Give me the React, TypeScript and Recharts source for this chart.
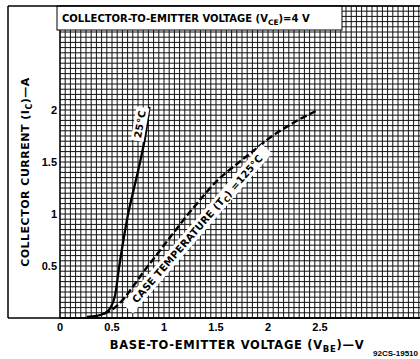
import React from 'react';
import { LineChart, Line, XAxis, YAxis, ReferenceLine, ReferenceDot } from 'recharts';

// Tick labels
const xTicks = [0, 0.5, 1, 1.5, 2, 2.5];
const yTicks = [0.5, 1, 1.5, 2];

// 25°C curve (VBE in V, IC in A)
const vbe25 = [0.26, 0.35, 0.42, 0.48, 0.53, 0.57, 0.61, 0.655, 0.71, 0.77, 0.82, 0.86];
const ic25 = [0.01, 0.02, 0.04, 0.09, 0.22, 0.5, 0.75, 1.0, 1.24, 1.5, 1.75, 2.03];

// 125°C curve
const vbe125 = [0.42, 0.5, 0.6, 0.7, 0.8, 0.9, 1.0, 1.1, 1.2, 1.3, 1.4, 1.5, 1.6, 1.7, 1.8, 1.9, 2.0, 2.1, 2.2, 2.3, 2.4, 2.48];
const ic125 = [0.04, 0.08, 0.17, 0.3, 0.44, 0.57, 0.7, 0.83, 0.96, 1.08, 1.2, 1.31, 1.4, 1.48, 1.56, 1.64, 1.72, 1.79, 1.85, 1.91, 1.96, 2.0];

// Label anchor points (data coords)
const label25 = { v: 0.77, i: 1.865 };
const label125 = { v: 1.32, i: 0.86 };

const X_MAX = 3.4615;
const Y_MAX = 3;
const GRID_STEP = 0.05;

const gridX: number[] = [];
for (let k = 0; k * GRID_STEP <= X_MAX + 1e-9; k++) gridX.push(+(k * GRID_STEP).toFixed(2));
const gridY: number[] = [];
for (let k = 0; k * GRID_STEP <= Y_MAX + 1e-9; k++) gridY.push(+(k * GRID_STEP).toFixed(2));

const data25 = vbe25.map((v, idx) => ({ v, i: ic25[idx] }));
const data125 = vbe125.map((v, idx) => ({ v, i: ic125[idx] }));

const FONT = '"Liberation Sans", Arial, Helvetica, sans-serif';
const WIDE = '"DejaVu Sans", Verdana, sans-serif';

const tickStyle = { fontSize: 11, fontWeight: 700, fill: '#000', fontFamily: FONT };

const RotLabel = (props: any) => {
  const { viewBox, angle, w, h, fs, ls, children } = props;
  if (!viewBox) return null;
  const cx = viewBox.x + (viewBox.width || 0) / 2;
  const cy = viewBox.y + (viewBox.height || 0) / 2;
  return (
    <g transform={`translate(${cx},${cy}) rotate(${angle})`}>
      <rect x={-w / 2} y={-h / 2} width={w} height={h} fill="#fff" />
      <text
        x={0}
        y={0}
        textAnchor="middle"
        dominantBaseline="central"
        fontFamily={WIDE}
        fontWeight={700}
        fontSize={fs}
        letterSpacing={ls}
        fill="#000"
      >
        {children}
      </text>
    </g>
  );
};

const Decorations = () => (
  <svg
    width={420}
    height={359}
    style={{ position: 'absolute', left: 0, top: 0, pointerEvents: 'none' }}
  >
    <g fontFamily={WIDE} fontWeight={700} fill="#000">
      {/* title box */}
      <rect x={57} y={6} width={285} height={24} fill="#fff" stroke="#000" strokeWidth={1} />
      <text x={62} y={22} fontSize={10}>
        COLLECTOR-TO-EMITTER VOLTAGE (V
        <tspan fontSize={7.5} dy={3}>CE</tspan>
        <tspan dy={-3}>)=4 V</tspan>
      </text>
      {/* frame */}
      <line x1={8} y1={6} x2={420} y2={6} stroke="#000" strokeWidth={1.5} />
      <line x1={8} y1={6} x2={8} y2={318} stroke="#000" strokeWidth={1.5} />
      <line x1={8} y1={318} x2={420} y2={318} stroke="#000" strokeWidth={1.5} />
      {/* y axis title */}
      <text transform="translate(29,172) rotate(-90)" textAnchor="middle" fontSize={11} letterSpacing={0.5}>
        COLLECTOR CURRENT (I
        <tspan fontSize={8} dy={3}>C</tspan>
        <tspan dy={-3}>)—A</tspan>
      </text>
      {/* x axis title */}
      <text x={237} y={349} textAnchor="middle" fontSize={11.5} letterSpacing={0.7}>
        BASE-TO-EMITTER VOLTAGE (V
        <tspan fontSize={8.5} dy={3}>BE</tspan>
        <tspan dy={-3}>)—V</tspan>
      </text>
      <text x={418} y={356} textAnchor="end" fontSize={8} fontFamily={FONT}>
        92CS-19510
      </text>
    </g>
  </svg>
);

export default function App() {
  return (
    <div style={{ width: 420, height: 359, background: '#fff', position: 'relative' }}>
      <style>{'html,body{margin:0;padding:0;overflow:hidden;background:#fff}'}</style>
      <LineChart width={420} height={359} margin={{ top: 6, right: 0, left: 0, bottom: 0 }}>
        <XAxis
          type="number"
          dataKey="v"
          domain={[0, X_MAX]}
          ticks={xTicks}
          height={41}
          tickSize={0}
          tickMargin={5}
          tick={tickStyle}
          axisLine={{ stroke: '#000', strokeWidth: 1.5 }}
          tickLine={false}
          allowDataOverflow
        />
        <YAxis
          type="number"
          domain={[0, Y_MAX]}
          ticks={yTicks}
          width={60}
          tickSize={0}
          tickMargin={3}
          tick={tickStyle}
          axisLine={{ stroke: '#000', strokeWidth: 1.2 }}
          tickLine={false}
          allowDataOverflow
        />
        {gridX.map((g) => (
          <ReferenceLine key={'gx' + g} x={g} stroke="#111" strokeWidth={1} />
        ))}
        {gridY.map((g) => (
          <ReferenceLine key={'gy' + g} y={g} stroke="#111" strokeWidth={1} />
        ))}
        <Line
          data={data25}
          dataKey="i"
          type="monotone"
          stroke="#000"
          strokeWidth={2.3}
          dot={false}
          isAnimationActive={false}
        />
        <Line
          data={data125}
          dataKey="i"
          type="monotone"
          stroke="#000"
          strokeWidth={2.4}
          strokeDasharray="7 3"
          dot={false}
          isAnimationActive={false}
        />
        <ReferenceDot
          x={label25.v}
          y={label25.i}
          r={1}
          fill="none"
          stroke="none"
          label={(p: any) => (
            <RotLabel viewBox={p.viewBox} angle={-80} w={34} h={13} fs={10} ls={0.5}>
              25°C
            </RotLabel>
          )}
        />
        <ReferenceDot
          x={label125.v}
          y={label125.i}
          r={1}
          fill="none"
          stroke="none"
          label={(p: any) => (
            <RotLabel viewBox={p.viewBox} angle={-49} w={212} h={14} fs={10} ls={0.3}>
              CASE TEMPERATURE (T
              <tspan fontSize={7.5} dy={3}>C</tspan>
              <tspan dy={-3}>) =125°C</tspan>
            </RotLabel>
          )}
        />
      </LineChart>
      <Decorations />
    </div>
  );
}
